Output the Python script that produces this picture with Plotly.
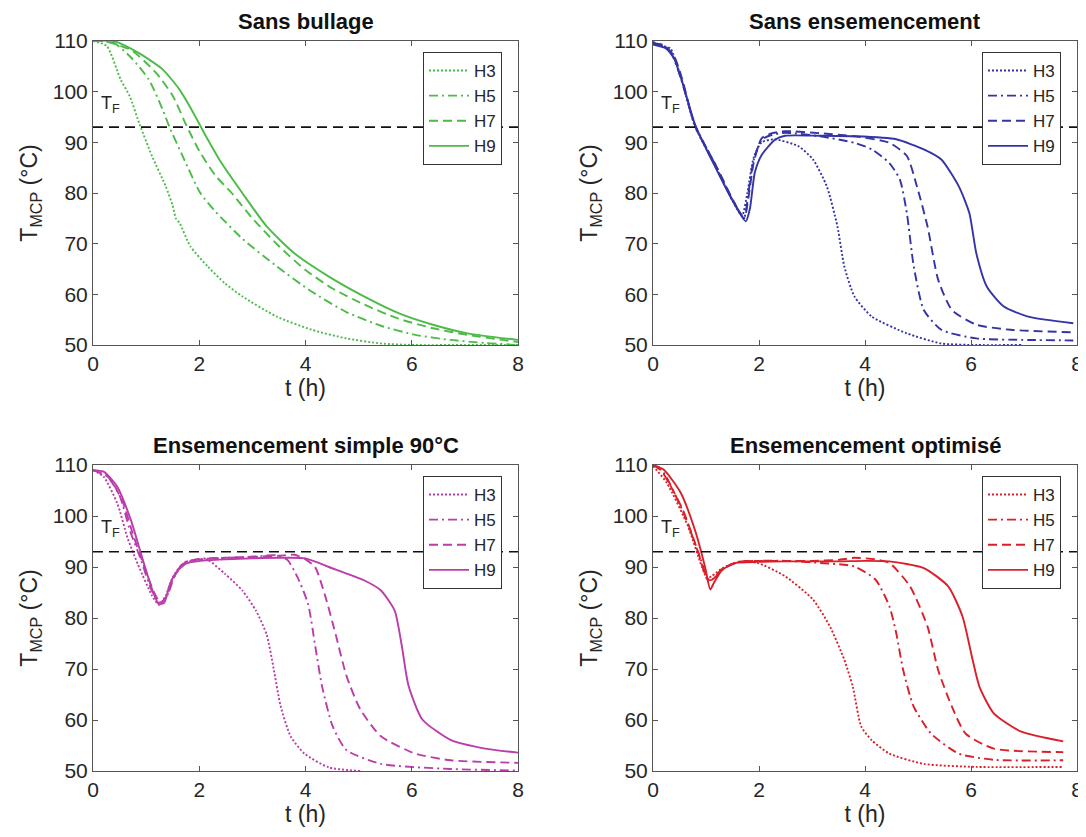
import plotly.graph_objects as go

# the page body adds an 8 px margin; the figure is sized to fill the rest
W, H = 1078, 829
FONT = "Liberation Sans"

SERIES = ["H3", "H5", "H7", "H9"]
DASHES = ["2px,2px", "9px,4px,2px,4px", "9px,5px", "solid"]
TITLES = ["Sans bullage", "Sans ensemencement",
          "Ensemencement simple 90°C", "Ensemencement optimisé"]
COLORS = ["#4cbb47", "#3434a6", "#bb3cab", "#d9202a"]
TF = 93
X_TICKS = [0, 2, 4, 6, 8]
Y_TICKS = [50, 60, 70, 80, 90, 100, 110]

# ---- Panel 1 : Sans bullage ----
P1_H3_T = [0, 0.26, 0.52, 0.69, 0.88, 1.11, 1.37, 1.5, 1.56, 1.63, 1.83, 2.16, 2.48, 2.81, 3.46, 4.12, 4.77, 5.42, 6.07, 7, 8]
P1_H3_Y = [110, 109, 102.4, 99.1, 93.5, 87.3, 81.3, 77.5, 75, 74.1, 69.5, 65.5, 62.2, 59.6, 55.6, 53, 51.3, 50.3, 50, 50, 50]
P1_H5_T = [0, 0.2, 0.39, 0.72, 1.05, 1.31, 1.44, 1.7, 2.02, 2.29, 2.81, 3.46, 4.12, 4.77, 5.42, 6.07, 6.73, 7.38, 8]
P1_H5_Y = [110, 110, 109.7, 106.7, 102.4, 96.5, 93.0, 87.0, 80.0, 76.5, 71.0, 65.5, 60.5, 56.5, 53.8, 52.0, 51.0, 50.4, 50]
P1_H7_T = [0, 0.2, 0.72, 1.18, 1.5, 1.76, 2.0, 2.3, 2.61, 3.0, 3.5, 4.0, 4.5, 5.1, 5.75, 6.4, 7.05, 7.71, 8]
P1_H7_Y = [110, 110, 108.2, 103.8, 99.2, 93.3, 88.3, 83.5, 80, 75.0, 69.5, 64.8, 61.2, 58.0, 55.2, 53.3, 52, 51, 50.6]
P1_H9_T = [0, 0.39, 0.85, 1.31, 1.63, 1.89, 2.09, 2.42, 2.81, 3.27, 3.79, 4.44, 5.1, 5.75, 6.4, 7.05, 8]
P1_H9_Y = [110, 110, 107.7, 104.4, 100.4, 95.8, 91.9, 85.9, 80, 73.4, 68.1, 63.5, 59.6, 56.3, 54, 52.3, 51]

# ---- Panel 2 : Sans ensemencement ----
P2_H3_T = [0, 0.2, 0.33, 0.52, 0.79, 1.18, 1.5, 1.68, 1.78, 1.9, 2.05, 2.3, 2.75, 3.02, 3.28, 3.48, 3.61, 3.8, 4.13, 4.79, 5.44, 6.1, 6.95]
P2_H3_Y = [109.8, 109, 108.5, 103, 93.2, 85.3, 78.5, 75.5, 80, 87, 90, 90.6, 89.2, 86.6, 81.3, 73.4, 65.5, 59.6, 55.6, 52.3, 50.3, 50, 50]
P2_H5_T = [0, 0.2, 0.35, 0.52, 0.79, 1.18, 1.5, 1.72, 1.8, 1.9, 2.05, 2.25, 2.49, 3.15, 3.8, 4.13, 4.46, 4.66, 4.79, 4.92, 5.11, 5.44, 6.1, 7.08, 7.93]
P2_H5_Y = [109.6, 109, 107.5, 102.8, 93.5, 85.5, 78.6, 75.2, 80, 86.5, 90.5, 91.5, 91.9, 91.2, 89.9, 88.6, 85.9, 82.6, 76, 65.5, 56.9, 53, 51.3, 51, 50.9]
P2_H7_T = [0, 0.2, 0.4, 0.55, 0.8, 1.18, 1.5, 1.72, 1.8, 1.9, 2.05, 2.25, 2.49, 3.15, 3.8, 4.46, 4.79, 4.98, 5.18, 5.38, 5.64, 6.1, 6.75, 7.93]
P2_H7_Y = [109.5, 109.2, 107, 102.5, 93, 85.6, 78.8, 75, 79, 86, 90.8, 91.8, 92.2, 91.8, 91.2, 89.9, 87.3, 81.3, 73.4, 62.9, 56.9, 54, 53, 52.5]
P2_H9_T = [0, 0.25, 0.4, 0.55, 0.8, 1.18, 1.5, 1.75, 1.83, 1.92, 2.05, 2.3, 2.49, 3.15, 3.8, 4.59, 5.11, 5.44, 5.77, 5.97, 6.1, 6.3, 6.62, 7.08, 7.93]
P2_H9_Y = [109.3, 108.5, 106.5, 102, 93.3, 85, 78.5, 74.4, 77, 84, 87.5, 90.5, 91.3, 91.3, 91.2, 90.6, 88.6, 86.6, 81.3, 76, 68.1, 61.5, 57.6, 55.6, 54.3]

# ---- Panel 3 : Ensemencement simple 90°C ----
P3_H3_T = [0, 0.2, 0.46, 0.65, 0.85, 1.11, 1.24, 1.37, 1.5, 1.7, 2.0, 2.16, 2.48, 2.81, 3.07, 3.27, 3.4, 3.53, 3.72, 3.98, 4.44, 5.03]
P3_H3_Y = [109, 107.7, 102.4, 95.7, 90.4, 84.4, 82.6, 84.4, 88, 90.7, 91.5, 91.4, 88.7, 85.4, 81.4, 76.7, 70.1, 62.8, 56.8, 53.4, 50.7, 50]
P3_H5_T = [0, 0.25, 0.5, 0.7, 0.9, 1.1, 1.25, 1.38, 1.5, 1.7, 2.0, 2.5, 3.0, 3.46, 3.66, 3.85, 4.05, 4.18, 4.31, 4.51, 4.77, 5.42, 6.73, 8]
P3_H5_Y = [109, 108, 104, 97, 91.5, 85.5, 83, 84, 87.5, 90.8, 91.6, 91.8, 92, 92.3, 91.4, 88, 82.7, 74.7, 66.7, 58.8, 54.1, 51.4, 50.4, 50.1]
P3_H7_T = [0, 0.3, 0.55, 0.75, 0.95, 1.15, 1.27, 1.4, 1.55, 1.75, 2.0, 2.5, 3.0, 3.5, 3.79, 4.0, 4.18, 4.38, 4.57, 4.77, 5.03, 5.42, 6.07, 6.73, 8]
P3_H7_Y = [109, 107.5, 103, 96.5, 90.5, 85, 83, 84.5, 88.5, 91, 91.5, 91.8, 92, 92.2, 92.4, 91.5, 90, 84, 76.7, 68.7, 62.1, 56.8, 53.4, 52.1, 51.6]
P3_H9_T = [0, 0.2, 0.46, 0.72, 0.91, 1.11, 1.24, 1.34, 1.44, 1.57, 1.76, 2.02, 2.5, 3.0, 3.5, 4.0, 4.44, 5.1, 5.42, 5.68, 5.81, 5.94, 6.2, 6.73, 7.38, 8]
P3_H9_Y = [109, 108.7, 105.7, 99, 92.4, 85.7, 82.7, 83, 86.4, 89, 90.7, 91.2, 91.5, 91.7, 91.8, 91.7, 90, 87.4, 85.4, 81.4, 74.7, 66.7, 60.1, 56.1, 54.4, 53.6]

# ---- Panel 4 : Ensemencement optimisé ----
P4_H3_T = [0, 0.26, 0.66, 0.92, 1.02, 1.11, 1.31, 1.6, 1.97, 2.49, 3.02, 3.34, 3.61, 3.77, 3.93, 4.13, 4.46, 5.11, 6.1, 7.74]
P4_H3_Y = [109.8, 106.5, 98, 90.1, 87.8, 88.2, 89.8, 90.9, 90.8, 88.2, 83.6, 78.3, 71.8, 66.5, 58.7, 56, 53.4, 51.4, 50.8, 50.8]
P4_H5_T = [0, 0.2, 0.6, 0.9, 1.05, 1.15, 1.35, 1.6, 2.0, 2.5, 3.15, 3.8, 4.2, 4.46, 4.59, 4.72, 4.92, 5.25, 5.77, 6.43, 7.74]
P4_H5_Y = [110, 108.5, 100, 91.5, 87.5, 87.8, 89.8, 91, 91.2, 91.2, 90.8, 90.1, 87.5, 82.3, 77, 69.8, 62.6, 57.3, 53.4, 52.2, 52.1]
P4_H7_T = [0, 0.15, 0.55, 0.85, 1.03, 1.12, 1.3, 1.6, 2.0, 2.5, 3.0, 3.5, 3.8, 4.2, 4.46, 4.85, 5.18, 5.38, 5.64, 5.9, 6.43, 7.74]
P4_H7_Y = [110, 109, 101.5, 93, 87.5, 87.5, 89.6, 91, 91.2, 91.2, 91.2, 91.4, 91.8, 91.5, 90.8, 86.2, 78.3, 69.8, 62.6, 57.3, 54.4, 53.7]
P4_H9_T = [0, 0.2, 0.52, 0.79, 0.98, 1.08, 1.15, 1.31, 1.57, 1.97, 2.5, 3.0, 3.5, 4.0, 4.46, 5.11, 5.57, 5.84, 6.03, 6.16, 6.43, 6.95, 7.74]
P4_H9_Y = [110, 109.1, 104.6, 97.3, 90.1, 85.6, 86.9, 89.5, 90.8, 91, 91.1, 91.1, 91.1, 91.2, 91.1, 89.8, 86.2, 80.3, 71.8, 66.5, 61.3, 57.7, 55.8]

PANELS = [
    [(P1_H3_T, P1_H3_Y), (P1_H5_T, P1_H5_Y), (P1_H7_T, P1_H7_Y), (P1_H9_T, P1_H9_Y)],
    [(P2_H3_T, P2_H3_Y), (P2_H5_T, P2_H5_Y), (P2_H7_T, P2_H7_Y), (P2_H9_T, P2_H9_Y)],
    [(P3_H3_T, P3_H3_Y), (P3_H5_T, P3_H5_Y), (P3_H7_T, P3_H7_Y), (P3_H9_T, P3_H9_Y)],
    [(P4_H3_T, P4_H3_Y), (P4_H5_T, P4_H5_Y), (P4_H7_T, P4_H7_Y), (P4_H9_T, P4_H9_Y)],
]

# pixel boxes of the four axes in figure coordinates (left, right, top, bottom)
BOXES = [(85, 510, 33, 337), (645, 1069, 33, 337),
         (85, 510, 457, 763), (645, 1069, 457, 763)]

fig = go.Figure()
layout = dict(width=W, height=H, margin=dict(l=0, r=0, t=0, b=0, autoexpand=False),
              paper_bgcolor="white", plot_bgcolor="white",
              font=dict(family=FONT, color="#262626", size=20),
              showlegend=True)
annotations = []

for i, (panel, box) in enumerate(zip(PANELS, BOXES)):
    n = "" if i == 0 else str(i + 1)
    xa, ya = "x" + n, "y" + n
    lg = "legend" + n
    L, R, T, B = box
    for (t, y), name, dash in zip(panel, SERIES, DASHES):
        fig.add_trace(go.Scatter(
            x=t, y=y, name=name, mode="lines", xaxis=xa, yaxis=ya, legend=lg,
            line=dict(color=COLORS[i], width=1.9, dash=dash, shape="spline", smoothing=0.6),
            cliponaxis=True))
    fig.add_trace(go.Scatter(
        x=[X_TICKS[0], X_TICKS[-1]], y=[TF, TF], mode="lines", xaxis=xa, yaxis=ya,
        showlegend=False, line=dict(color="#111111", width=1.6, dash="10px,6px")))
    axcommon = dict(showline=True, linecolor="#555555", linewidth=1, mirror="ticks",
                    ticks="inside", ticklen=5, tickcolor="#555555", showgrid=False,
                    zeroline=False, automargin=False,
                    tickfont=dict(size=21, color="#262626"))
    layout["xaxis" + n] = dict(axcommon, domain=[L / W, R / W], range=[0, 8],
                               tickvals=X_TICKS, anchor=ya,
                               title=dict(text="t (h)", font=dict(size=23), standoff=0))
    layout["yaxis" + n] = dict(axcommon, domain=[1 - B / H, 1 - T / H], range=[50, 110],
                               tickvals=Y_TICKS, anchor=xa,
                               title=dict(text="T<sub>MCP</sub> (°C)", font=dict(size=23), standoff=8))
    layout[lg] = dict(x=(R - 16) / W, y=1 - (T + 11) / H, xanchor="right", yanchor="top",
                      bgcolor="white", bordercolor="#333333", borderwidth=1,
                      font=dict(size=17, color="#262626"), tracegroupgap=0,
                      itemwidth=40)
    annotations.append(dict(text="<b>" + TITLES[i] + "</b>", xref="paper", yref="paper",
                            x=(L + R) / 2 / W, y=1 - (T - 5) / H, xanchor="center",
                            yanchor="bottom", showarrow=False,
                            font=dict(size=22, color="#111111")))
    annotations.append(dict(text="T<sub>F</sub>", xref=xa, yref=ya, x=0.12, y=97.5,
                            xanchor="left", yanchor="middle", showarrow=False,
                            font=dict(size=18, color="#262626")))

layout["annotations"] = annotations
fig.update_layout(**layout)
fig.write_html("out.html")
